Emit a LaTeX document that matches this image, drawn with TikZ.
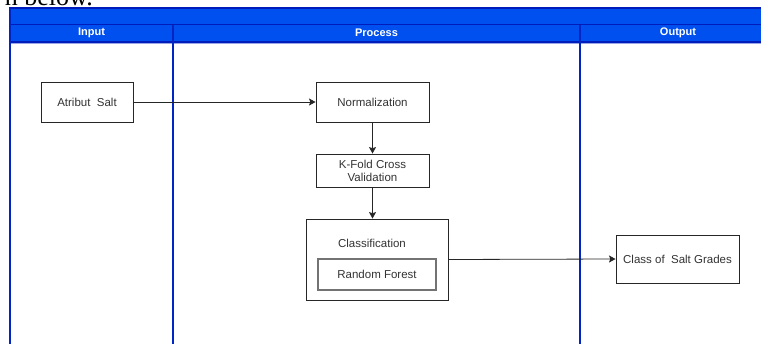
\documentclass[tikz,border=0pt]{standalone}
\usepackage{fontspec}
\setmainfont{Liberation Sans}
\newfontfamily\serifpart{Liberation Serif}
\usetikzlibrary{arrows.meta}
\definecolor{laneblue}{HTML}{0050EF}
\definecolor{lanedark}{HTML}{001DBC}
\definecolor{txt}{HTML}{333333}
\tikzset{
  box/.style={draw=black!85, line width=0.9pt, fill=white, text=txt, align=center,
    font=\fontsize{11.5}{13}\selectfont, inner sep=0pt},
  hdr/.style={text=white, font=\bfseries\fontsize{11}{13}\selectfont},
  conn/.style={draw=black!85, line width=0.8pt, -{Stealth[length=6.5pt,width=7pt,inset=1.2pt]}},
  lane/.style={draw=lanedark!85!laneblue, line width=2.2pt}
}
\begin{document}
\begin{tikzpicture}[x=1pt,y=1pt]
\useasboundingbox (0,-343) rectangle (761,0);
\begin{scope}
\clip (0,-343) rectangle (761,0);
% cropped text above
\node[anchor=base east, inner sep=0pt, font=\serifpart\fontsize{26}{28}\selectfont, text=black] (crop) at (93,-5.5) {n below.};
% pool title band
\fill[laneblue] (10,-8) rectangle (775,-25);
\draw[lanedark, line width=1.2pt] (10,-8) rectangle (775,-25);
% lane headers
\fill[laneblue] (10,-25) rectangle (775,-42);
\draw[lanedark, line width=1.2pt] (10,-42) -- (775,-42);
\draw[lanedark!40!white, line width=0.8pt] (10,-43.2) -- (775,-43.2);
\node[hdr] (hin) at (91.5,-33) {Input};
\node[hdr] (hpr) at (376.5,-33) {Process};
\node[hdr] (hout) at (678,-33) {Output};
% lane lines
\draw[lane] (10,-8) -- (10,-350);
\draw[lane] (173,-25) -- (173,-350);
\draw[lane] (580,-25) -- (580,-350);
\end{scope}
% nodes
\node[box, minimum width=92pt, minimum height=40pt] (attr) at (87,-102) {Atribut\ \ Salt};
\node[box, minimum width=113pt, minimum height=40pt] (norm) at (372.5,-102) {Normalization};
\node[box, minimum width=113pt, minimum height=33pt] (kfold) at (372.5,-170.5) {K-Fold Cross\\Validation};
\node[box, minimum width=142pt, minimum height=81pt] (cls) at (377,-259.5) {};
\node[text=txt, font=\fontsize{11.5}{13}\selectfont, inner sep=0pt] (clst) at (372,-243) {Classification};
\node[box, draw=black!55, line width=1.3pt, minimum width=118pt, minimum height=31pt] (rf) at (377,-274.5) {Random Forest};
\node[box, minimum width=123pt, minimum height=48pt] (out) at (677.5,-259) {Class of\ \ Salt Grades};
% connectors
\draw[conn] (attr.east) -- (norm.west);
\draw[conn] (norm.south) -- (kfold.north);
\draw[conn] (kfold.south) -- (kfold.south |- cls.north);
\draw[conn] (cls.east) -- (out.west);
\end{tikzpicture}
\end{document}
